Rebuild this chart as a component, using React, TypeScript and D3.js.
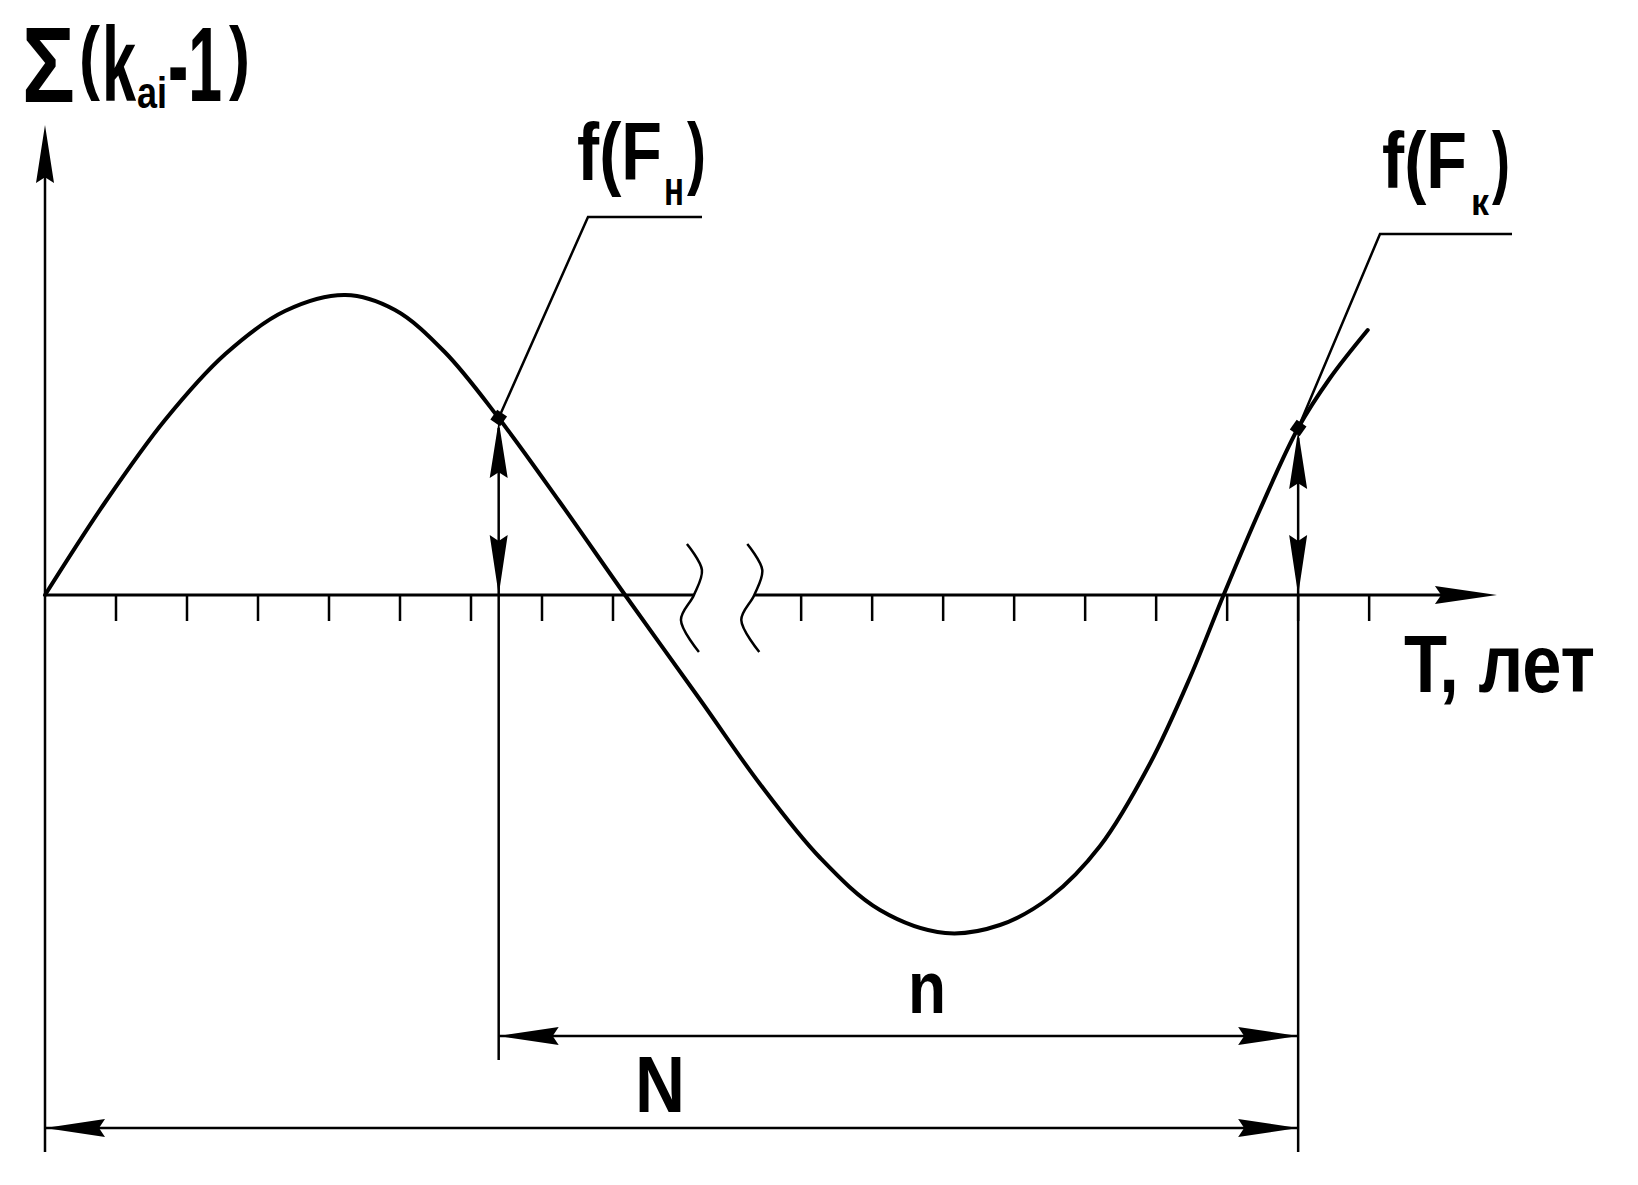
import * as d3 from "d3"

// curve: T in tick units (1 tick = 1 year), value in arbitrary units
const curveT = [0, 0.85, 1.69, 2.54, 3.38, 4.23, 4.93, 5.63, 6.39, 7.25, 8.17, 9.23, 10.07, 10.92, 11.76, 12.68, 13.45, 14.16, 14.86, 15.56, 16.13, 16.6, 17.11, 17.65, 18.1, 18.63]
const curveV = [0, 0.93, 1.75, 2.41, 2.84, 3.0, 2.85, 2.43, 1.77, 0.93, 0, -1.05, -1.89, -2.63, -3.15, -3.38, -3.3, -3.02, -2.51, -1.69, -0.82, 0, 0.85, 1.67, 2.17, 2.65]

const T_START = 6.39 // F_н
const T_END = 17.65 // F_к
const leftTicks = d3.range(1, 9)
const rightTicks = d3.range(-7, 2).map((k) => T_END + k)
const axisBreak = [9.14, 9.99]
const T_MAX = 20.45
const V_MAX = 4.7
const V_MIN = -5.57

const W = 1638
const H = 1185
const FONT = "'Liberation Sans', Arial, sans-serif"

const x = d3.scaleLinear().domain([0, T_MAX]).range([45, 45 + 71 * T_MAX])
const y = d3.scaleLinear().domain([V_MIN, V_MAX]).range([1152, 125])

const valueAt = (t: number) => curveV[curveT.indexOf(t)]

function Arrow({ px, py, dir, len = 60, hw = 9 }: { px: number; py: number; dir: number; len?: number; hw?: number }) {
  return (
    <path
      d={`M0,0L${-len},${-hw}L${-len * 0.9},0L${-len},${hw}Z`}
      transform={`translate(${px},${py}) rotate(${dir})`}
      fill="#000"
    />
  )
}

// one label = one <text>; pieces are [text, x, baseline, size, width]
type Piece = [string, number, number, number, number]
function Label({ pieces }: { pieces: Piece[] }) {
  return (
    <text fontFamily={FONT} fontWeight="bold" fill="#000">
      {pieces.map(([s, px, py, size, w], i) => (
        <tspan key={i} x={px} y={py} fontSize={size} textLength={w} lengthAdjust="spacingAndGlyphs">
          {s}
        </tspan>
      ))}
    </text>
  )
}

export default function App() {
  const y0 = y(0)
  const pts = curveT.map((t, i) => [x(t), y(curveV[i])] as [number, number])
  const curvePath = d3.line().curve(d3.curveCatmullRom.alpha(0.5))(pts) || ""

  // wavy break marks on the T axis
  const wave: [number, number][] = [[-7, -51], [8, -25], [0, 0], [-13, 25], [5, 57]]
  const waveLine = d3.line().curve(d3.curveCatmullRom.alpha(0.5))
  const breakL = x(axisBreak[0])
  const breakR = x(axisBreak[1])

  const xs = x(T_START)
  const ys = y(valueAt(T_START))
  const xe = x(T_END)
  const ye = y(valueAt(T_END))

  const dimN = 1128
  const dimn = 1036

  return (
    <div style={{ position: "absolute", left: 0, top: 0, background: "#fff" }}>
      <svg width={W} height={H} viewBox={`0 0 ${W} ${H}`} style={{ display: "block" }}>
        <rect width={W} height={H} fill="#fff" />

        {/* y axis */}
        <line x1={x(0)} x2={x(0)} y1={y(V_MAX) + 20} y2={y(V_MIN)} stroke="#000" strokeWidth={2.5} />
        <Arrow px={x(0)} py={y(V_MAX)} dir={-90} len={58} />

        {/* T axis with break */}
        <line x1={x(0)} x2={breakL} y1={y0} y2={y0} stroke="#000" strokeWidth={3} />
        <line x1={breakR} x2={x(T_MAX) - 20} y1={y0} y2={y0} stroke="#000" strokeWidth={3} />
        <Arrow px={x(T_MAX)} py={y0} dir={0} len={62} />
        {[breakL, breakR].map((bx, i) => (
          <path
            key={i}
            d={waveLine(wave.map(([dx, dy]) => [bx + dx, y0 + dy])) || ""}
            fill="none"
            stroke="#000"
            strokeWidth={2.5}
          />
        ))}
        {[...leftTicks, ...rightTicks].map((t) => (
          <line key={t} x1={x(t)} x2={x(t)} y1={y0} y2={y0 + 26} stroke="#000" strokeWidth={2.5} />
        ))}

        {/* curve */}
        <path d={curvePath} fill="none" stroke="#000" strokeWidth={4} strokeLinecap="round" />

        {/* start / end ordinates */}
        <line x1={xs} x2={xs} y1={ys + 10} y2={1060} stroke="#000" strokeWidth={2.5} />
        <Arrow px={xs} py={ys + 3} dir={-90} len={57} />
        <Arrow px={xs} py={y0} dir={90} len={60} />
        <line x1={xe} x2={xe} y1={ye + 10} y2={y(V_MIN)} stroke="#000" strokeWidth={2.5} />
        <Arrow px={xe} py={ye + 3} dir={-90} len={58} />
        <Arrow px={xe} py={y0} dir={90} len={60} />
        {[[xs, ys], [xe, ye]].map(([px, py], i) => (
          <rect key={i} x={-6} y={-6} width={12} height={12} fill="#000" transform={`translate(${px},${py}) rotate(35)`} />
        ))}

        {/* leaders */}
        <polyline points={`${xs},${ys} 588,217 702,217`} fill="none" stroke="#000" strokeWidth={2.5} />
        <polyline points={`${xe},${ye} 1380,234 1512,234`} fill="none" stroke="#000" strokeWidth={2.5} />

        {/* dimension lines */}
        <line x1={xs} x2={xe} y1={dimn} y2={dimn} stroke="#000" strokeWidth={2.5} />
        <Arrow px={xs} py={dimn} dir={180} />
        <Arrow px={xe} py={dimn} dir={0} />
        <line x1={x(0)} x2={xe} y1={dimN} y2={dimN} stroke="#000" strokeWidth={2.5} />
        <Arrow px={x(0)} py={dimN} dir={180} />
        <Arrow px={xe} py={dimN} dir={0} />

        {/* labels */}
        <Label
          pieces={[
            ["Σ", 22, 102, 107, 53],
            ["(", 79, 84, 82, 21],
            ["k", 102, 101, 106, 34],
            ["ai", 137, 108, 44, 30],
            ["-1", 168, 101, 106, 54],
            [")", 229, 84, 82, 21],
          ]}
        />
        <Label
          pieces={[
            ["f(F", 577, 180, 81, 85],
            ["н", 664, 205, 48, 20],
            [")", 687, 179, 80, 19],
          ]}
        />
        <Label
          pieces={[
            ["f(F", 1382, 188, 80, 85],
            ["к", 1471, 215, 36, 18],
            [")", 1492, 188, 80, 18],
          ]}
        />
        <Label pieces={[["T, лет", 1404, 692, 82, 191]]} />
        <Label pieces={[["n", 908, 1013, 74, 38]]} />
        <Label pieces={[["N", 635, 1112, 80, 50]]} />
      </svg>
    </div>
  )
}
